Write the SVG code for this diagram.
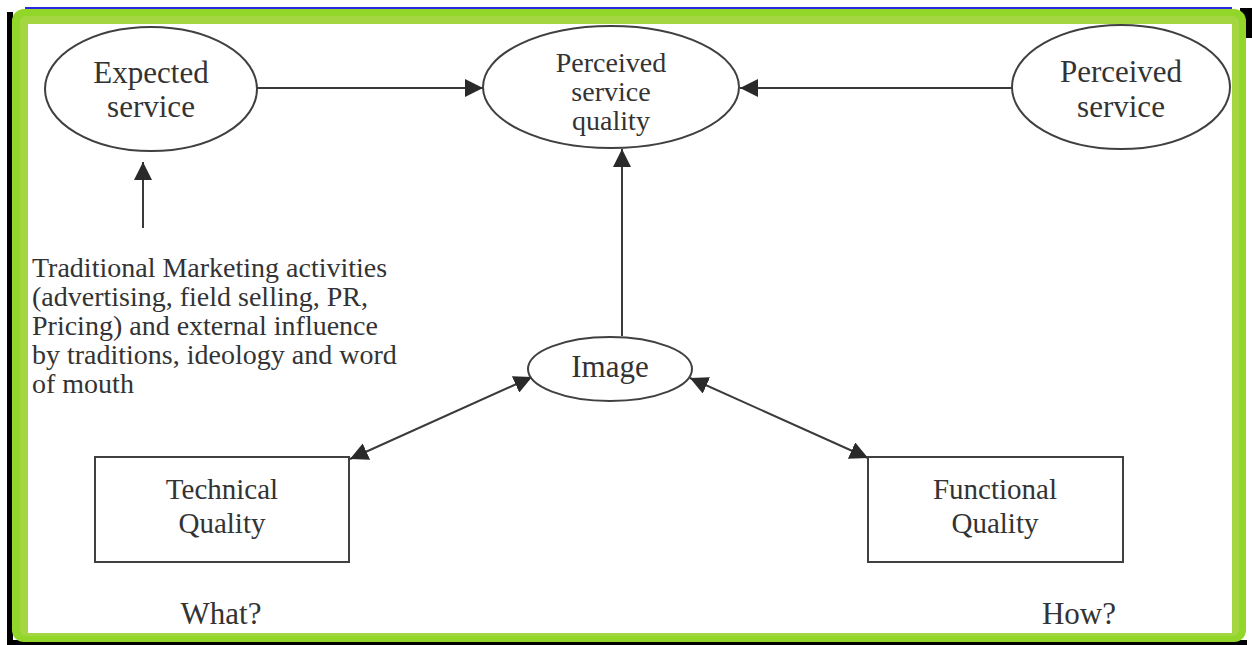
<svg xmlns="http://www.w3.org/2000/svg" width="1252" height="645" viewBox="0 0 1252 645">
  <style>
    .node { fill: #ffffff; stroke: #404040; stroke-width: 2; }
    .lbl { font-family: "Liberation Serif", "Times New Roman", serif; font-size: 31px; fill: #333333; text-anchor: middle; }
    .lbl2 { font-family: "Liberation Serif", "Times New Roman", serif; font-size: 28px; fill: #333333; text-anchor: middle; }
    .lbl3 { font-family: "Liberation Serif", "Times New Roman", serif; font-size: 29px; fill: #333333; text-anchor: middle; }
    .para { font-family: "Liberation Serif", "Times New Roman", serif; font-size: 28px; fill: #333333; }
    .conn { stroke: #3a3a3a; stroke-width: 2; fill: none; }
  </style>
  <defs>
    <marker id="arr" markerUnits="userSpaceOnUse" markerWidth="18" markerHeight="18" refX="18" refY="9" orient="auto-start-reverse" viewBox="0 0 18 18">
      <path d="M0,0 L18,9 L0,18 z" fill="#2a2a2a"/>
    </marker>
  </defs>

  <!-- frame -->
  <g id="frame">
    <rect x="0" y="0" width="1252" height="645" fill="#ffffff"/>
    <rect x="7" y="12" width="6" height="633" fill="#000000"/>
    <rect x="7" y="640" width="1240" height="5" fill="#000000"/>
    <rect x="1240" y="8" width="12" height="30" fill="#000000"/>
    <line x1="25" y1="8" x2="1232" y2="8" stroke="#2a2ae0" stroke-width="2"/>
    <rect x="12" y="9" width="1234" height="633" rx="12" fill="#92d62a"/>
    <rect x="20" y="16" width="1219" height="620" rx="6" fill="#a4d641"/>
    <rect x="28" y="24" width="1204" height="609" fill="#ffffff"/>
  </g>

  <!-- connectors -->
  <g id="connectors">
    <line class="conn" x1="257" y1="88" x2="483" y2="88" marker-end="url(#arr)"/>
    <line class="conn" x1="1012" y1="88" x2="740" y2="88" marker-end="url(#arr)"/>
    <line class="conn" x1="622" y1="336" x2="622" y2="149" marker-end="url(#arr)"/>
    <line class="conn" x1="143" y1="228" x2="143" y2="162" marker-end="url(#arr)"/>
    <line class="conn" x1="350" y1="459" x2="532" y2="377" marker-start="url(#arr)" marker-end="url(#arr)"/>
    <line class="conn" x1="690" y1="378" x2="868" y2="458" marker-start="url(#arr)" marker-end="url(#arr)"/>
  </g>

  <g id="expected-service">
    <ellipse class="node" cx="151" cy="89" rx="106" ry="62"/>
    <text class="lbl" x="151" y="83">Expected</text>
    <text class="lbl" x="151" y="117">service</text>
  </g>

  <g id="perceived-service-quality">
    <ellipse class="node" cx="611" cy="87" rx="128" ry="61"/>
    <text class="lbl2" x="611" y="72">Perceived</text>
    <text class="lbl2" x="611" y="101">service</text>
    <text class="lbl2" x="611" y="130">quality</text>
  </g>

  <g id="perceived-service">
    <ellipse class="node" cx="1121" cy="87" rx="109" ry="62"/>
    <text class="lbl" x="1121" y="82">Perceived</text>
    <text class="lbl" x="1121" y="117">service</text>
  </g>

  <g id="traditional-marketing">
    <text class="para" x="32" y="277">Traditional Marketing activities</text>
    <text class="para" x="32" y="306">(advertising, field selling, PR,</text>
    <text class="para" x="32" y="335">Pricing) and external influence</text>
    <text class="para" x="32" y="364">by traditions, ideology and word</text>
    <text class="para" x="32" y="393">of mouth</text>
  </g>

  <g id="image">
    <ellipse class="node" cx="610" cy="369" rx="82" ry="32"/>
    <text class="lbl" x="610" y="377">Image</text>
  </g>

  <g id="technical-quality">
    <rect class="node" x="95" y="457" width="254" height="105"/>
    <text class="lbl3" x="222" y="499">Technical</text>
    <text class="lbl3" x="222" y="533">Quality</text>
  </g>

  <g id="functional-quality">
    <rect class="node" x="868" y="457" width="255" height="105"/>
    <text class="lbl3" x="995" y="499">Functional</text>
    <text class="lbl3" x="995" y="533">Quality</text>
  </g>

  <g id="what">
    <text class="lbl" x="221" y="624">What?</text>
  </g>
  <g id="how">
    <text class="lbl" x="1079" y="624">How?</text>
  </g>
</svg>
